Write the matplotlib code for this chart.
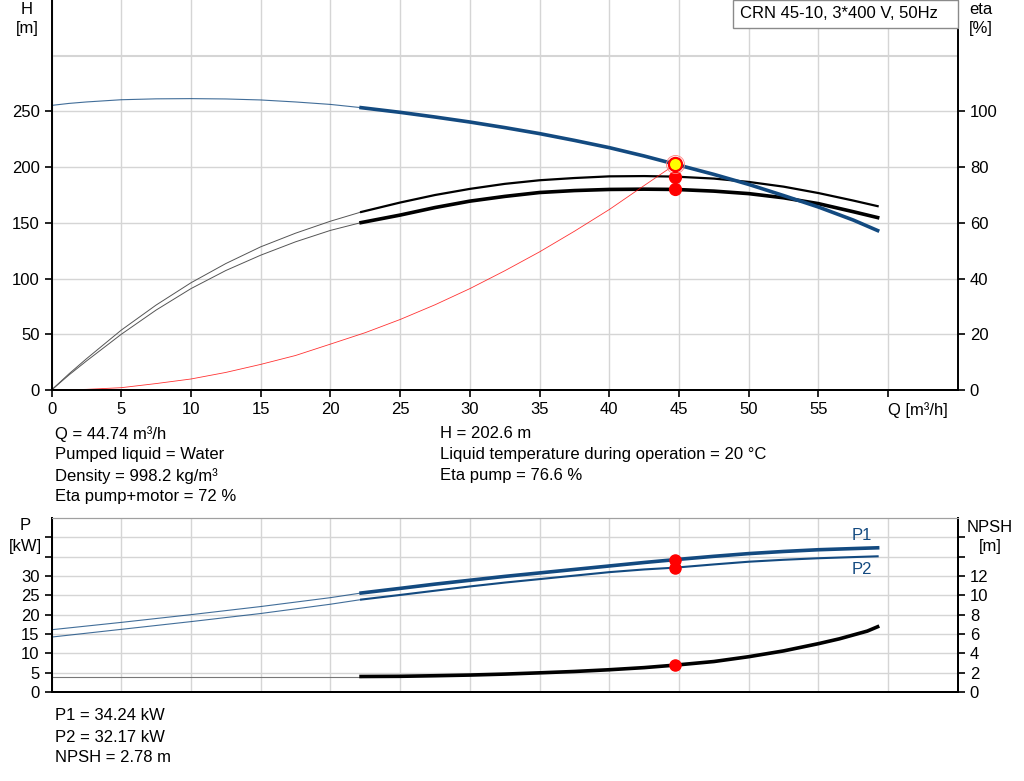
import numpy as np
import matplotlib.pyplot as plt
from matplotlib.patches import Rectangle

plt.rcParams['font.family'] = ['Liberation Sans', 'DejaVu Sans']
plt.rcParams['font.size'] = 12

# pump head curve H(Q)
q_h = [0, 1.25, 2.5, 5, 7.5, 10, 12.5, 15, 17.5, 20, 22.2, 25, 27.5, 30, 32.5, 35,
       37.5, 40, 42.5, 44.74, 47.5, 50, 52.5, 55, 57.5, 59.24]
h = [255.4, 257.2, 258.5, 260.5, 261.3, 261.5, 261.2, 260.3, 258.5, 256.3, 253.4, 249.2,
     245.0, 240.5, 235.5, 230.1, 224.0, 217.5, 210.0, 202.6, 193.5, 184.5, 174.5,
     164.2, 152.5, 143.1]

# efficiency curves (same Q points)
eta_pump = [0, 5.8, 11.2, 21.5, 30.5, 38.5, 45.4, 51.4, 56.3, 60.6, 63.9, 67.3, 70.0,
            72.2, 74.0, 75.3, 76.1, 76.7, 76.8, 76.6, 75.9, 74.7, 73.0, 70.7, 68.0, 66.0]
eta_tot = [0, 5.4, 10.4, 20.0, 28.7, 36.4, 42.9, 48.4, 53.2, 57.3, 60.1, 62.8, 65.5,
           67.8, 69.5, 70.9, 71.6, 72.0, 72.1, 72.0, 71.4, 70.5, 69.0, 66.9, 64.0, 61.9]

# system curve
q_sys = [0, 2.5, 5, 7.5, 10, 12.5, 15, 17.5, 20, 22.5, 25, 27.5, 30, 32.5, 35,
         37.5, 40, 42.5, 44.74]
h_sys = [0, 0.6, 2.1, 5.8, 9.9, 15.8, 23, 31, 41.2, 51.5, 63.3, 76.5, 91, 107,
         124, 142.5, 162, 183.5, 202.6]

# power curves
q_p = [0, 5, 10, 15, 20, 22.2, 25, 27.5, 30, 32.5, 35, 37.5, 40, 42.5, 44.74,
       47.5, 50, 52.5, 55, 57.5, 59.24]
p1 = [16.1, 18.0, 20.0, 22.1, 24.4, 25.6, 26.8, 27.9, 28.9, 29.9, 30.8, 31.7, 32.6,
      33.5, 34.24, 35.1, 35.8, 36.35, 36.8, 37.1, 37.3]
p2 = [14.2, 16.2, 18.2, 20.3, 22.7, 23.9, 25.1, 26.2, 27.3, 28.3, 29.2, 30.1, 31.0,
      31.7, 32.17, 33.0, 33.7, 34.2, 34.6, 34.9, 35.1]

# NPSH curve
q_npsh = [22.2, 25, 27.5, 30, 32.5, 35, 37.5, 40, 42.5, 44.74, 47.5, 50, 52.5, 55,
          56.5, 57.5, 58.5, 59.24]
npsh = [1.6, 1.62, 1.68, 1.75, 1.85, 1.98, 2.12, 2.3, 2.52, 2.78, 3.15, 3.65, 4.25,
        5.0, 5.5, 5.9, 6.3, 6.75]
q_npsh_thin = [0, 22.2]
npsh_thin = [1.6, 1.6]

q_op = 44.74
h_op = 202.6
eta_pump_op = 76.6
eta_tot_op = 72
p1_op = 34.24
p2_op = 32.17
npsh_op = 2.78

q_start = 22.2
blue = '#134a80'
gridc = '#d5d5d5'

fig = plt.figure(figsize=(10.24, 7.81), dpi=100)

# ---------- top chart: H and eta ----------
ax1r = fig.add_axes([0.0503, 0.5006, 0.8852, 0.4994])
ax1 = ax1r.twinx()
ax1.yaxis.tick_left()
ax1r.yaxis.tick_right()
ax1.set_zorder(ax1r.get_zorder() + 1)
ax1.patch.set_visible(False)
ax1r.patch.set_visible(False)

ax1.set_xlim(0, 65)
ax1.set_ylim(0, 350)
ax1r.set_ylim(0, 140)
ax1.set_yticks(np.arange(0, 251, 50))
ax1r.set_yticks(np.arange(0, 101, 20))
xt = np.arange(0, 61, 5)
ax1r.set_xticks(xt)
ax1r.set_xticklabels([str(v) for v in xt[:-1]] + ['Q [m³/h]'])
ax1r.get_xticklabels()[-1].set_ha('left')
ax1r.grid(True, color=gridc, lw=1)
ax1r.axhline(120, color=gridc, lw=1.5)

for a in (ax1, ax1r):
    a.spines['top'].set_visible(False)
    for s in ('left', 'right', 'bottom'):
        a.spines[s].set_linewidth(1.4)
    a.tick_params(direction='out', length=5, width=1.2, colors='black')
ax1.spines['right'].set_visible(False)
ax1r.spines['left'].set_visible(False)

th = [i for i, q in enumerate(q_h) if q <= q_start]
tk = [i for i, q in enumerate(q_h) if q >= q_start]
qa = np.array(q_h)
ax1r.plot(qa[th], np.array(eta_pump)[th], color='#555555', lw=0.7)
ax1r.plot(qa[tk], np.array(eta_pump)[tk], color='black', lw=1.6)
ax1r.plot(qa[th], np.array(eta_tot)[th], color='#555555', lw=0.7)
ax1r.plot(qa[tk], np.array(eta_tot)[tk], color='black', lw=2.6)
ax1r.plot([q_op], [eta_pump_op], 'o', color='red', ms=8.5)
ax1r.plot([q_op], [eta_tot_op], 'o', color='red', ms=8.5)

ax1.plot(q_sys, h_sys, color='red', lw=0.6, alpha=0.8)
ax1.plot(qa[th], np.array(h)[th], color=blue, lw=0.8, alpha=0.8)
ax1.plot(qa[tk], np.array(h)[tk], color=blue, lw=2.6)
ax1.plot([q_op], [h_op], 'o', ms=13, mfc='none', mec='#ff8080', mew=0.6)
ax1.plot([q_op], [h_op], 'o', ms=9.5, mfc='#ffff00', mec='red', mew=1.6)

fig.text(27 / 1024, 1 - 10 / 781, 'H', ha='center', va='center')
fig.text(27 / 1024, 1 - 29 / 781, '[m]', ha='center', va='center')
fig.text(981 / 1024, 1 - 10 / 781, 'eta', ha='center', va='center')
fig.text(981 / 1024, 1 - 29 / 781, '[%]', ha='center', va='center')

fig.add_artist(Rectangle((733 / 1024, 1 - 28 / 781), 225 / 1024, 28 / 781,
                         transform=fig.transFigure, fc='white', ec='#8a8a8a', lw=1))
fig.text(740 / 1024, 1 - 14 / 781, 'CRN 45-10, 3*400 V, 50Hz', ha='left', va='center')

# ---------- info text ----------
left_info = ['Q = 44.74 m³/h', 'Pumped liquid = Water', 'Density = 998.2 kg/m³',
             'Eta pump+motor = 72 %']
right_info = ['H = 202.6 m', 'Liquid temperature during operation = 20 °C',
              'Eta pump = 76.6 %']
for i, t in enumerate(left_info):
    fig.text(55 / 1024, 1 - (434 + 21 * i) / 781, t, va='center')
for i, t in enumerate(right_info):
    fig.text(440 / 1024, 1 - (434 + 21 * i) / 781, t, va='center')

# ---------- bottom chart: P and NPSH ----------
ax2 = fig.add_axes([0.0503, 0.1140, 0.8852, 0.2227])
ax2r = ax2.twinx()
ax2.set_xlim(0, 65)
ax2.set_ylim(0, 45)
ax2r.set_ylim(0, 18)
ax2.set_xticks(xt)
ax2.set_xticklabels([])
ax2.tick_params(axis='x', length=0)
pt = np.arange(0, 41, 5)
ax2.set_yticks(pt)
ax2.set_yticklabels([str(v) if v <= 30 else '' for v in pt])
nt = np.arange(0, 17, 2)
ax2r.set_yticks(nt)
ax2r.set_yticklabels([str(v) if v <= 12 else '' for v in nt])
ax2.grid(True, color=gridc, lw=1)
for a in (ax2, ax2r):
    a.spines['top'].set_color('#a0a0a0')
    for s in ('left', 'right', 'bottom'):
        a.spines[s].set_linewidth(1.4)
    a.tick_params(axis='y', direction='out', length=5, width=1.2)

qp = np.array(q_p)
pth = [i for i, q in enumerate(q_p) if q <= q_start]
ptk = [i for i, q in enumerate(q_p) if q >= q_start]
ax2.plot(qp[pth], np.array(p1)[pth], color=blue, lw=0.8, alpha=0.8)
ax2.plot(qp[ptk], np.array(p1)[ptk], color=blue, lw=2.6)
ax2.plot(qp[pth], np.array(p2)[pth], color=blue, lw=0.8, alpha=0.8)
ax2.plot(qp[ptk], np.array(p2)[ptk], color=blue, lw=1.5)
ax2.plot([q_op], [p1_op], 'o', color='red', ms=8)
ax2.plot([q_op], [p2_op], 'o', color='red', ms=8)
ax2.text(57.4, 40.6, 'P1', color=blue, ha='left', va='center')
ax2.text(57.4, 31.8, 'P2', color=blue, ha='left', va='center')

ax2r.plot(q_npsh_thin, npsh_thin, color='#777777', lw=0.8)
ax2r.plot(q_npsh, npsh, color='black', lw=2.6)
ax2r.plot([q_op], [npsh_op], 'o', color='red', ms=8)

fig.text(25 / 1024, 1 - 526 / 781, 'P', ha='center', va='center')
fig.text(25 / 1024, 1 - 547 / 781, '[kW]', ha='center', va='center')
fig.text(990 / 1024, 1 - 527 / 781, 'NPSH', ha='center', va='center')
fig.text(990 / 1024, 1 - 547 / 781, '[m]', ha='center', va='center')

bottom_info = ['P1 = 34.24 kW', 'P2 = 32.17 kW', 'NPSH = 2.78 m']
for i, t in enumerate(bottom_info):
    fig.text(55 / 1024, 1 - (716 + 21 * i) / 781, t, va='center')

fig.savefig('out.png', dpi=100)
